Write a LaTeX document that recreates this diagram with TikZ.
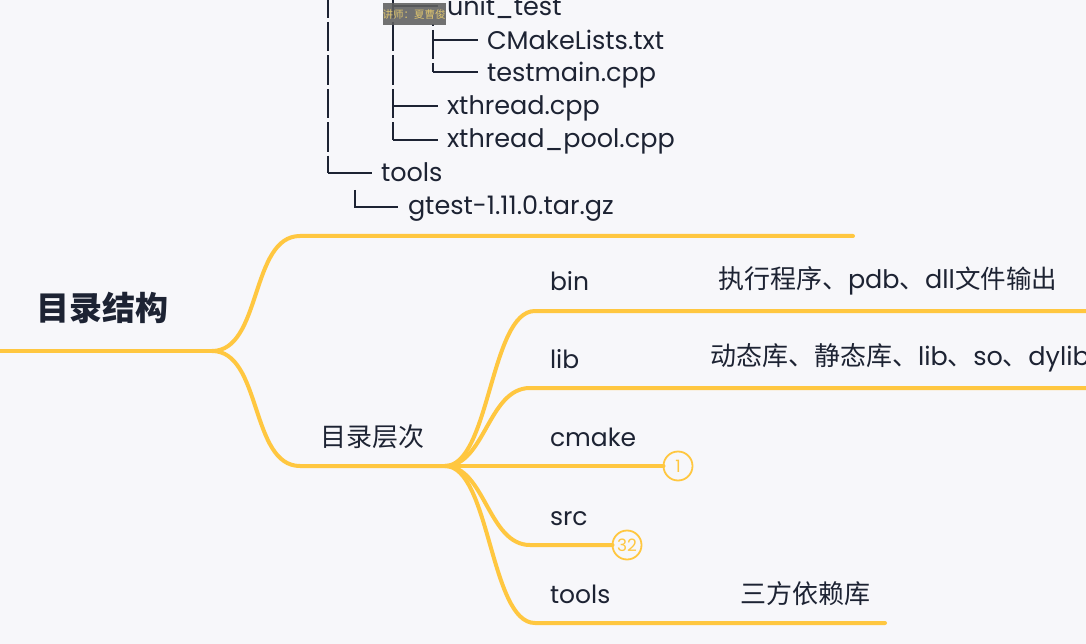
\documentclass[tikz,border=0pt]{standalone}
\usepackage{fontspec}
\setmainfont{Poppins}
\newfontfamily\cjk{Noto Sans CJK SC}
\usetikzlibrary{positioning}

\definecolor{mapline}{RGB}{255,199,64}
\definecolor{ink}{RGB}{29,35,51}
\definecolor{paper}{RGB}{247,247,250}
\definecolor{tagbg}{RGB}{95,95,95}
\definecolor{tagtext}{RGB}{222,196,110}

\newcommand{\latinpart}{\normalfont\fontsize{25.5}{26}\selectfont}

\tikzset{
	leaf/.style={anchor=base west, text=ink, font=\fontsize{25}{25}\selectfont},
	treeleaf/.style={anchor=base west, text=ink, font=\fontsize{25.5}{26}\selectfont},
	note/.style={anchor=west, text=ink, font=\fontsize{26}{26}\selectfont},
	treeline/.style={draw=ink, line width=2.2pt, dash pattern=on 29.4pt off 4pt, dash phase=11.4pt},
	treestub/.style={draw=ink, line width=2.2pt},
	branch/.style={draw=mapline, line width=4pt, line cap=round},
	badge/.style={circle, draw=mapline, line width=1.8pt, fill=paper, minimum size=29, text=mapline, font=\fontsize{17}{17}\selectfont},
}

\begin{document}
\begin{tikzpicture}[y=1pt, x=1pt, yscale=-1, inner sep=0pt, outer sep=0pt]
\fill[paper] (0,0) rectangle (1086,644);
\useasboundingbox (0,0) rectangle (1086,644);

% file tree
\draw[treeline] (328,0) -- (328,173);
\draw[treestub] (328,173) -- (372,173);
\draw[treeline] (393,0) -- (393,140);
\draw[treestub] (393,6) -- (438,6);
\draw[treestub] (393,106) -- (438,106);
\draw[treestub] (393,140) -- (438,140);
\draw[treeline, dash phase=-6pt] (433,24) -- (433,72);
\draw[treestub] (433,40) -- (478,40);
\draw[treestub] (433,72) -- (478,72);
\draw[treestub] (355,190) -- (355,207) -- (398,207);

\node[treeleaf] (ut) at (447,16) {unit\_test};
\node[treeleaf] (cml) at (487,50) {CMakeLists.txt};
\node[treeleaf] (tm) at (487,82) {testmain.cpp};
\node[treeleaf] (xt) at (447,115) {xthread.cpp};
\node[treeleaf] (xtp) at (447,148) {xthread\_pool.cpp};
\node[treeleaf] (tl) at (381,182) {tools};
\node[treeleaf] (gt) at (408,215) {gtest-1.11.0.tar.gz};

\node[fill=tagbg, fill opacity=.88, text opacity=1, text=tagtext, minimum width=62, minimum height=22, font=\cjk\fontsize{10.5}{11}\selectfont] (tag) at (414,14) {讲师：夏曹俊};

% mind map
\coordinate (hub) at (212,351);
\coordinate (mid) at (445,466);
\node[text=ink, font=\cjk\bfseries\fontsize{33}{33}\selectfont] (root) at (102,308) {目录结构};
\draw[branch] (0,351) -- (hub);
\draw[branch] (hub) .. controls (262,351) and (250,236) .. (300,236) -- (853,236);
\draw[branch] (hub) .. controls (262,351) and (250,466) .. (300,466) -- (mid);
\node[note] (lvl) at (320,437) {\cjk 目录层次};

\node[badge] (n1) at (678,466) {1};
\node[badge] (n32) at (627,545) {32};
\draw[branch] (mid) .. controls (490,466) and (490,311) .. (535,311) -- (1090,311);
\draw[branch] (mid) .. controls (485,466) and (488,388) .. (530,388) -- (1090,388);
\draw[branch] (mid) -- (n1);
\draw[branch] (mid) .. controls (485,466) and (488,545) .. (530,545) -- (n32);
\draw[branch] (mid) .. controls (490,466) and (490,623) .. (535,623) -- (885,623);

\node[leaf] (bin) at (550,290) {bin};
\node[leaf] (lib) at (550,368) {lib};
\node[leaf] (cm) at (550,446) {cmake};
\node[leaf] (src) at (550,525) {src};
\node[leaf] (tls) at (550,603) {tools};

\node[note] (binnote) at (718,281) {\cjk 执行程序、\latinpart pdb\cjk 、\latinpart dll\cjk 文件输出};
\node[note] (libnote) at (710,358) {\cjk 动态库、静态库、\latinpart lib\cjk 、\latinpart so\cjk 、\latinpart dylib};
\node[note] (tlsnote) at (740,594) {\cjk 三方依赖库};
\end{tikzpicture}
\end{document}
